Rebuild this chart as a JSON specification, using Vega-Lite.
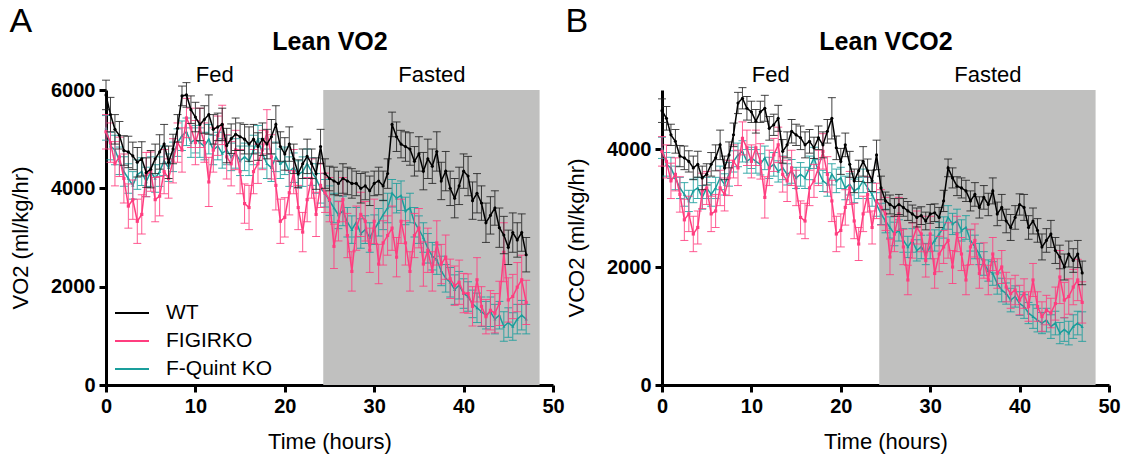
{
"$schema":"https://vega.github.io/schema/vega-lite/v6.json",
"padding":{"left":9,"top":5,"right":3,"bottom":5},
"datasets":{
"A":[
{"g":"WT","t":0,"v":5900,"e":300},{"g":"WT","t":0.5,"v":5500,"e":350},{"g":"WT","t":1,"v":5200,"e":300},{"g":"WT","t":1.5,"v":5080,"e":280},{"g":"WT","t":2,"v":4770,"e":300},{"g":"WT","t":2.5,"v":4740,"e":320},{"g":"WT","t":3,"v":4660,"e":280},{"g":"WT","t":3.5,"v":4530,"e":300},{"g":"WT","t":4,"v":4600,"e":350},{"g":"WT","t":4.5,"v":4320,"e":300},{"g":"WT","t":5,"v":4390,"e":380},{"g":"WT","t":5.5,"v":4600,"e":300},{"g":"WT","t":6,"v":4740,"e":350},{"g":"WT","t":6.5,"v":4900,"e":400},{"g":"WT","t":7,"v":4530,"e":330},{"g":"WT","t":7.5,"v":4800,"e":300},{"g":"WT","t":8,"v":5220,"e":280},{"g":"WT","t":8.5,"v":5880,"e":200},{"g":"WT","t":9,"v":5900,"e":250},{"g":"WT","t":9.5,"v":5600,"e":280},{"g":"WT","t":10,"v":5450,"e":300},{"g":"WT","t":10.5,"v":5300,"e":330},{"g":"WT","t":11,"v":5400,"e":280},{"g":"WT","t":11.5,"v":5500,"e":400},{"g":"WT","t":12,"v":5200,"e":300},{"g":"WT","t":12.5,"v":5250,"e":280},{"g":"WT","t":13,"v":5300,"e":330},{"g":"WT","t":13.5,"v":4870,"e":350},{"g":"WT","t":14,"v":5010,"e":300},{"g":"WT","t":14.5,"v":5100,"e":330},{"g":"WT","t":15,"v":5050,"e":280},{"g":"WT","t":15.5,"v":5000,"e":300},{"g":"WT","t":16,"v":4900,"e":350},{"g":"WT","t":16.5,"v":5000,"e":300},{"g":"WT","t":17,"v":4850,"e":280},{"g":"WT","t":17.5,"v":5000,"e":330},{"g":"WT","t":18,"v":4900,"e":300},{"g":"WT","t":18.5,"v":5050,"e":350},{"g":"WT","t":19,"v":5300,"e":380},{"g":"WT","t":19.5,"v":4850,"e":300},{"g":"WT","t":20,"v":4700,"e":330},{"g":"WT","t":20.5,"v":4900,"e":350},{"g":"WT","t":21,"v":4600,"e":300},{"g":"WT","t":21.5,"v":4300,"e":280},{"g":"WT","t":22,"v":4500,"e":300},{"g":"WT","t":22.5,"v":4650,"e":350},{"g":"WT","t":23,"v":4500,"e":300},{"g":"WT","t":23.5,"v":4300,"e":320},{"g":"WT","t":24,"v":4850,"e":350},{"g":"WT","t":24.5,"v":4300,"e":300},{"g":"WT","t":25,"v":4200,"e":250},{"g":"WT","t":25.5,"v":4150,"e":280},{"g":"WT","t":26,"v":4100,"e":250},{"g":"WT","t":26.5,"v":4200,"e":300},{"g":"WT","t":27,"v":4150,"e":280},{"g":"WT","t":27.5,"v":4100,"e":300},{"g":"WT","t":28,"v":4100,"e":250},{"g":"WT","t":28.5,"v":4000,"e":300},{"g":"WT","t":29,"v":4050,"e":280},{"g":"WT","t":29.5,"v":3950,"e":300},{"g":"WT","t":30,"v":4100,"e":250},{"g":"WT","t":30.5,"v":4150,"e":280},{"g":"WT","t":31,"v":4050,"e":300},{"g":"WT","t":31.5,"v":4300,"e":300},{"g":"WT","t":32,"v":5300,"e":250},{"g":"WT","t":32.5,"v":5050,"e":300},{"g":"WT","t":33,"v":4900,"e":280},{"g":"WT","t":33.5,"v":4850,"e":300},{"g":"WT","t":34,"v":4800,"e":330},{"g":"WT","t":34.5,"v":4550,"e":300},{"g":"WT","t":35,"v":4700,"e":350},{"g":"WT","t":35.5,"v":4350,"e":380},{"g":"WT","t":36,"v":4600,"e":400},{"g":"WT","t":36.5,"v":4450,"e":350},{"g":"WT","t":37,"v":4750,"e":400},{"g":"WT","t":37.5,"v":4150,"e":380},{"g":"WT","t":38,"v":4350,"e":400},{"g":"WT","t":38.5,"v":4000,"e":350},{"g":"WT","t":39,"v":3800,"e":400},{"g":"WT","t":39.5,"v":4050,"e":380},{"g":"WT","t":40,"v":4350,"e":350},{"g":"WT","t":40.5,"v":4250,"e":400},{"g":"WT","t":41,"v":3750,"e":380},{"g":"WT","t":41.5,"v":3900,"e":400},{"g":"WT","t":42,"v":3700,"e":350},{"g":"WT","t":42.5,"v":3300,"e":400},{"g":"WT","t":43,"v":3450,"e":380},{"g":"WT","t":43.5,"v":3600,"e":350},{"g":"WT","t":44,"v":3200,"e":400},{"g":"WT","t":44.5,"v":3050,"e":380},{"g":"WT","t":45,"v":2800,"e":350},{"g":"WT","t":45.5,"v":3100,"e":400},{"g":"WT","t":46,"v":2950,"e":350},{"g":"WT","t":46.5,"v":3100,"e":380},{"g":"WT","t":47,"v":2650,"e":350},
{"g":"FIGIRKO","t":0,"v":5150,"e":350},{"g":"FIGIRKO","t":0.5,"v":4930,"e":400},{"g":"FIGIRKO","t":1,"v":4500,"e":450},{"g":"FIGIRKO","t":1.5,"v":4640,"e":400},{"g":"FIGIRKO","t":2,"v":4200,"e":500},{"g":"FIGIRKO","t":2.5,"v":3640,"e":450},{"g":"FIGIRKO","t":3,"v":3770,"e":400},{"g":"FIGIRKO","t":3.5,"v":3330,"e":450},{"g":"FIGIRKO","t":4,"v":3470,"e":400},{"g":"FIGIRKO","t":4.5,"v":4280,"e":450},{"g":"FIGIRKO","t":5,"v":4340,"e":400},{"g":"FIGIRKO","t":5.5,"v":3770,"e":450},{"g":"FIGIRKO","t":6,"v":3840,"e":400},{"g":"FIGIRKO","t":6.5,"v":4340,"e":450},{"g":"FIGIRKO","t":7,"v":4200,"e":400},{"g":"FIGIRKO","t":7.5,"v":4560,"e":450},{"g":"FIGIRKO","t":8,"v":4930,"e":400},{"g":"FIGIRKO","t":8.5,"v":4780,"e":450},{"g":"FIGIRKO","t":9,"v":5430,"e":400},{"g":"FIGIRKO","t":9.5,"v":5230,"e":400},{"g":"FIGIRKO","t":10,"v":4930,"e":450},{"g":"FIGIRKO","t":10.5,"v":5230,"e":400},{"g":"FIGIRKO","t":11,"v":4930,"e":400},{"g":"FIGIRKO","t":11.5,"v":4130,"e":500},{"g":"FIGIRKO","t":12,"v":4780,"e":450},{"g":"FIGIRKO","t":12.5,"v":5070,"e":400},{"g":"FIGIRKO","t":13,"v":5290,"e":400},{"g":"FIGIRKO","t":13.5,"v":4640,"e":450},{"g":"FIGIRKO","t":14,"v":4500,"e":450},{"g":"FIGIRKO","t":14.5,"v":4780,"e":400},{"g":"FIGIRKO","t":15,"v":4340,"e":450},{"g":"FIGIRKO","t":15.5,"v":3690,"e":400},{"g":"FIGIRKO","t":16,"v":3610,"e":450},{"g":"FIGIRKO","t":16.5,"v":4340,"e":450},{"g":"FIGIRKO","t":17,"v":4500,"e":400},{"g":"FIGIRKO","t":17.5,"v":4780,"e":400},{"g":"FIGIRKO","t":18,"v":5150,"e":450},{"g":"FIGIRKO","t":18.5,"v":4640,"e":450},{"g":"FIGIRKO","t":19,"v":4060,"e":500},{"g":"FIGIRKO","t":19.5,"v":3330,"e":450},{"g":"FIGIRKO","t":20,"v":3410,"e":400},{"g":"FIGIRKO","t":20.5,"v":3910,"e":450},{"g":"FIGIRKO","t":21,"v":4340,"e":450},{"g":"FIGIRKO","t":21.5,"v":3610,"e":450},{"g":"FIGIRKO","t":22,"v":3110,"e":400},{"g":"FIGIRKO","t":22.5,"v":3770,"e":450},{"g":"FIGIRKO","t":23,"v":4200,"e":400},{"g":"FIGIRKO","t":23.5,"v":3470,"e":450},{"g":"FIGIRKO","t":24,"v":4060,"e":450},{"g":"FIGIRKO","t":24.5,"v":3910,"e":400},{"g":"FIGIRKO","t":25,"v":3770,"e":450},{"g":"FIGIRKO","t":25.5,"v":2820,"e":450},{"g":"FIGIRKO","t":26,"v":3330,"e":400},{"g":"FIGIRKO","t":26.5,"v":3770,"e":450},{"g":"FIGIRKO","t":27,"v":3040,"e":450},{"g":"FIGIRKO","t":27.5,"v":2310,"e":400},{"g":"FIGIRKO","t":28,"v":3190,"e":450},{"g":"FIGIRKO","t":28.5,"v":3470,"e":450},{"g":"FIGIRKO","t":29,"v":3330,"e":400},{"g":"FIGIRKO","t":29.5,"v":2740,"e":450},{"g":"FIGIRKO","t":30,"v":3330,"e":450},{"g":"FIGIRKO","t":30.5,"v":2460,"e":400},{"g":"FIGIRKO","t":31,"v":2890,"e":450},{"g":"FIGIRKO","t":31.5,"v":3040,"e":400},{"g":"FIGIRKO","t":32,"v":3190,"e":450},{"g":"FIGIRKO","t":32.5,"v":2600,"e":400},{"g":"FIGIRKO","t":33,"v":3330,"e":450},{"g":"FIGIRKO","t":33.5,"v":2890,"e":450},{"g":"FIGIRKO","t":34,"v":2310,"e":400},{"g":"FIGIRKO","t":34.5,"v":3040,"e":450},{"g":"FIGIRKO","t":35,"v":3190,"e":400},{"g":"FIGIRKO","t":35.5,"v":2460,"e":450},{"g":"FIGIRKO","t":36,"v":2740,"e":450},{"g":"FIGIRKO","t":36.5,"v":2310,"e":400},{"g":"FIGIRKO","t":37,"v":2890,"e":450},{"g":"FIGIRKO","t":37.5,"v":2460,"e":400},{"g":"FIGIRKO","t":38,"v":2600,"e":450},{"g":"FIGIRKO","t":38.5,"v":2160,"e":400},{"g":"FIGIRKO","t":39,"v":2020,"e":400},{"g":"FIGIRKO","t":39.5,"v":2090,"e":450},{"g":"FIGIRKO","t":40,"v":1870,"e":400},{"g":"FIGIRKO","t":40.5,"v":1860,"e":400},{"g":"FIGIRKO","t":41,"v":1600,"e":400},{"g":"FIGIRKO","t":41.5,"v":2140,"e":450},{"g":"FIGIRKO","t":42,"v":1600,"e":400},{"g":"FIGIRKO","t":42.5,"v":1390,"e":350},{"g":"FIGIRKO","t":43,"v":1520,"e":400},{"g":"FIGIRKO","t":43.5,"v":1460,"e":400},{"g":"FIGIRKO","t":44,"v":1660,"e":450},{"g":"FIGIRKO","t":44.5,"v":2700,"e":600},{"g":"FIGIRKO","t":45,"v":1730,"e":450},{"g":"FIGIRKO","t":45.5,"v":1800,"e":450},{"g":"FIGIRKO","t":46,"v":1990,"e":500},{"g":"FIGIRKO","t":46.5,"v":2140,"e":500},{"g":"FIGIRKO","t":47,"v":1680,"e":450},
{"g":"F-Quint KO","t":0,"v":5230,"e":250},{"g":"F-Quint KO","t":0.5,"v":4860,"e":280},{"g":"F-Quint KO","t":1,"v":4780,"e":300},{"g":"F-Quint KO","t":1.5,"v":4560,"e":280},{"g":"F-Quint KO","t":2,"v":4340,"e":300},{"g":"F-Quint KO","t":2.5,"v":4200,"e":300},{"g":"F-Quint KO","t":3,"v":4060,"e":280},{"g":"F-Quint KO","t":3.5,"v":4280,"e":300},{"g":"F-Quint KO","t":4,"v":4340,"e":280},{"g":"F-Quint KO","t":4.5,"v":4130,"e":300},{"g":"F-Quint KO","t":5,"v":4340,"e":300},{"g":"F-Quint KO","t":5.5,"v":4200,"e":280},{"g":"F-Quint KO","t":6,"v":4340,"e":300},{"g":"F-Quint KO","t":6.5,"v":4560,"e":300},{"g":"F-Quint KO","t":7,"v":4420,"e":280},{"g":"F-Quint KO","t":7.5,"v":4640,"e":300},{"g":"F-Quint KO","t":8,"v":4930,"e":280},{"g":"F-Quint KO","t":8.5,"v":5070,"e":300},{"g":"F-Quint KO","t":9,"v":5150,"e":280},{"g":"F-Quint KO","t":9.5,"v":4930,"e":300},{"g":"F-Quint KO","t":10,"v":5000,"e":280},{"g":"F-Quint KO","t":10.5,"v":4930,"e":300},{"g":"F-Quint KO","t":11,"v":4860,"e":280},{"g":"F-Quint KO","t":11.5,"v":5000,"e":300},{"g":"F-Quint KO","t":12,"v":4780,"e":300},{"g":"F-Quint KO","t":12.5,"v":4860,"e":280},{"g":"F-Quint KO","t":13,"v":4710,"e":300},{"g":"F-Quint KO","t":13.5,"v":4780,"e":300},{"g":"F-Quint KO","t":14,"v":4640,"e":280},{"g":"F-Quint KO","t":14.5,"v":4710,"e":300},{"g":"F-Quint KO","t":15,"v":4560,"e":300},{"g":"F-Quint KO","t":15.5,"v":4640,"e":280},{"g":"F-Quint KO","t":16,"v":4560,"e":300},{"g":"F-Quint KO","t":16.5,"v":4780,"e":300},{"g":"F-Quint KO","t":17,"v":5000,"e":280},{"g":"F-Quint KO","t":17.5,"v":4710,"e":300},{"g":"F-Quint KO","t":18,"v":4500,"e":300},{"g":"F-Quint KO","t":18.5,"v":4420,"e":280},{"g":"F-Quint KO","t":19,"v":4640,"e":300},{"g":"F-Quint KO","t":19.5,"v":4500,"e":300},{"g":"F-Quint KO","t":20,"v":4560,"e":280},{"g":"F-Quint KO","t":20.5,"v":4340,"e":300},{"g":"F-Quint KO","t":21,"v":4420,"e":300},{"g":"F-Quint KO","t":21.5,"v":4280,"e":280},{"g":"F-Quint KO","t":22,"v":4340,"e":300},{"g":"F-Quint KO","t":22.5,"v":4500,"e":300},{"g":"F-Quint KO","t":23,"v":4340,"e":280},{"g":"F-Quint KO","t":23.5,"v":4200,"e":300},{"g":"F-Quint KO","t":24,"v":4000,"e":300},{"g":"F-Quint KO","t":24.5,"v":3900,"e":280},{"g":"F-Quint KO","t":25,"v":3750,"e":300},{"g":"F-Quint KO","t":25.5,"v":3600,"e":300},{"g":"F-Quint KO","t":26,"v":3460,"e":280},{"g":"F-Quint KO","t":26.5,"v":3540,"e":300},{"g":"F-Quint KO","t":27,"v":3310,"e":300},{"g":"F-Quint KO","t":27.5,"v":3160,"e":280},{"g":"F-Quint KO","t":28,"v":3310,"e":300},{"g":"F-Quint KO","t":28.5,"v":3080,"e":300},{"g":"F-Quint KO","t":29,"v":3160,"e":280},{"g":"F-Quint KO","t":29.5,"v":3000,"e":300},{"g":"F-Quint KO","t":30,"v":3160,"e":300},{"g":"F-Quint KO","t":30.5,"v":3310,"e":280},{"g":"F-Quint KO","t":31,"v":3460,"e":300},{"g":"F-Quint KO","t":31.5,"v":3600,"e":300},{"g":"F-Quint KO","t":32,"v":3900,"e":280},{"g":"F-Quint KO","t":32.5,"v":3800,"e":300},{"g":"F-Quint KO","t":33,"v":3850,"e":300},{"g":"F-Quint KO","t":33.5,"v":3540,"e":280},{"g":"F-Quint KO","t":34,"v":3600,"e":300},{"g":"F-Quint KO","t":34.5,"v":3310,"e":300},{"g":"F-Quint KO","t":35,"v":3160,"e":280},{"g":"F-Quint KO","t":35.5,"v":3000,"e":300},{"g":"F-Quint KO","t":36,"v":2780,"e":300},{"g":"F-Quint KO","t":36.5,"v":2620,"e":280},{"g":"F-Quint KO","t":37,"v":2550,"e":300},{"g":"F-Quint KO","t":37.5,"v":2320,"e":300},{"g":"F-Quint KO","t":38,"v":2170,"e":280},{"g":"F-Quint KO","t":38.5,"v":2090,"e":300},{"g":"F-Quint KO","t":39,"v":1940,"e":300},{"g":"F-Quint KO","t":39.5,"v":2030,"e":280},{"g":"F-Quint KO","t":40,"v":1860,"e":300},{"g":"F-Quint KO","t":40.5,"v":1800,"e":300},{"g":"F-Quint KO","t":41,"v":1650,"e":280},{"g":"F-Quint KO","t":41.5,"v":1570,"e":300},{"g":"F-Quint KO","t":42,"v":1490,"e":300},{"g":"F-Quint KO","t":42.5,"v":1420,"e":280},{"g":"F-Quint KO","t":43,"v":1490,"e":300},{"g":"F-Quint KO","t":43.5,"v":1340,"e":300},{"g":"F-Quint KO","t":44,"v":1420,"e":280},{"g":"F-Quint KO","t":44.5,"v":1190,"e":300},{"g":"F-Quint KO","t":45,"v":1270,"e":300},{"g":"F-Quint KO","t":45.5,"v":1190,"e":280},{"g":"F-Quint KO","t":46,"v":1340,"e":300},{"g":"F-Quint KO","t":46.5,"v":1420,"e":300},{"g":"F-Quint KO","t":47,"v":1340,"e":300}
],
"B":[
{"g":"WT","t":0,"v":4650,"e":200},{"g":"WT","t":0.5,"v":4520,"e":200},{"g":"WT","t":1,"v":4240,"e":180},{"g":"WT","t":1.5,"v":4130,"e":200},{"g":"WT","t":2,"v":3880,"e":180},{"g":"WT","t":2.5,"v":3850,"e":200},{"g":"WT","t":3,"v":3790,"e":180},{"g":"WT","t":3.5,"v":3680,"e":200},{"g":"WT","t":4,"v":3740,"e":220},{"g":"WT","t":4.5,"v":3510,"e":200},{"g":"WT","t":5,"v":3570,"e":180},{"g":"WT","t":5.5,"v":3740,"e":200},{"g":"WT","t":6,"v":3850,"e":220},{"g":"WT","t":6.5,"v":4070,"e":250},{"g":"WT","t":7,"v":3680,"e":200},{"g":"WT","t":7.5,"v":3900,"e":220},{"g":"WT","t":8,"v":4240,"e":200},{"g":"WT","t":8.5,"v":4780,"e":180},{"g":"WT","t":9,"v":4860,"e":180},{"g":"WT","t":9.5,"v":4690,"e":200},{"g":"WT","t":10,"v":4630,"e":180},{"g":"WT","t":10.5,"v":4470,"e":200},{"g":"WT","t":11,"v":4630,"e":180},{"g":"WT","t":11.5,"v":4690,"e":220},{"g":"WT","t":12,"v":4350,"e":200},{"g":"WT","t":12.5,"v":4410,"e":180},{"g":"WT","t":13,"v":4520,"e":220},{"g":"WT","t":13.5,"v":3960,"e":200},{"g":"WT","t":14,"v":4070,"e":220},{"g":"WT","t":14.5,"v":4300,"e":200},{"g":"WT","t":15,"v":4240,"e":180},{"g":"WT","t":15.5,"v":4190,"e":200},{"g":"WT","t":16,"v":4070,"e":220},{"g":"WT","t":16.5,"v":4130,"e":200},{"g":"WT","t":17,"v":4020,"e":180},{"g":"WT","t":17.5,"v":4190,"e":200},{"g":"WT","t":18,"v":4070,"e":220},{"g":"WT","t":18.5,"v":4300,"e":200},{"g":"WT","t":19,"v":4520,"e":350},{"g":"WT","t":19.5,"v":4020,"e":200},{"g":"WT","t":20,"v":3790,"e":220},{"g":"WT","t":20.5,"v":4070,"e":200},{"g":"WT","t":21,"v":3740,"e":220},{"g":"WT","t":21.5,"v":3460,"e":200},{"g":"WT","t":22,"v":3630,"e":180},{"g":"WT","t":22.5,"v":3790,"e":250},{"g":"WT","t":23,"v":3630,"e":200},{"g":"WT","t":23.5,"v":3460,"e":180},{"g":"WT","t":24,"v":3900,"e":250},{"g":"WT","t":24.5,"v":3340,"e":200},{"g":"WT","t":25,"v":3120,"e":150},{"g":"WT","t":25.5,"v":3060,"e":160},{"g":"WT","t":26,"v":3010,"e":150},{"g":"WT","t":26.5,"v":3060,"e":170},{"g":"WT","t":27,"v":3010,"e":150},{"g":"WT","t":27.5,"v":2950,"e":160},{"g":"WT","t":28,"v":2900,"e":150},{"g":"WT","t":28.5,"v":2840,"e":160},{"g":"WT","t":29,"v":2870,"e":150},{"g":"WT","t":29.5,"v":2780,"e":150},{"g":"WT","t":30,"v":2900,"e":160},{"g":"WT","t":30.5,"v":2920,"e":150},{"g":"WT","t":31,"v":2840,"e":170},{"g":"WT","t":31.5,"v":3120,"e":180},{"g":"WT","t":32,"v":3680,"e":150},{"g":"WT","t":32.5,"v":3510,"e":170},{"g":"WT","t":33,"v":3370,"e":160},{"g":"WT","t":33.5,"v":3340,"e":170},{"g":"WT","t":34,"v":3290,"e":180},{"g":"WT","t":34.5,"v":3120,"e":170},{"g":"WT","t":35,"v":3230,"e":200},{"g":"WT","t":35.5,"v":3010,"e":180},{"g":"WT","t":36,"v":3180,"e":200},{"g":"WT","t":36.5,"v":3060,"e":190},{"g":"WT","t":37,"v":3290,"e":220},{"g":"WT","t":37.5,"v":2900,"e":200},{"g":"WT","t":38,"v":3010,"e":220},{"g":"WT","t":38.5,"v":2780,"e":200},{"g":"WT","t":39,"v":2670,"e":220},{"g":"WT","t":39.5,"v":2840,"e":200},{"g":"WT","t":40,"v":3060,"e":180},{"g":"WT","t":40.5,"v":3010,"e":220},{"g":"WT","t":41,"v":2670,"e":200},{"g":"WT","t":41.5,"v":2780,"e":220},{"g":"WT","t":42,"v":2620,"e":200},{"g":"WT","t":42.5,"v":2340,"e":220},{"g":"WT","t":43,"v":2450,"e":200},{"g":"WT","t":43.5,"v":2560,"e":230},{"g":"WT","t":44,"v":2280,"e":220},{"g":"WT","t":44.5,"v":2170,"e":200},{"g":"WT","t":45,"v":2000,"e":220},{"g":"WT","t":45.5,"v":2220,"e":220},{"g":"WT","t":46,"v":2110,"e":200},{"g":"WT","t":46.5,"v":2220,"e":230},{"g":"WT","t":47,"v":1900,"e":200},
{"g":"FIGIRKO","t":0,"v":3960,"e":250},{"g":"FIGIRKO","t":0.5,"v":3790,"e":280},{"g":"FIGIRKO","t":1,"v":3460,"e":300},{"g":"FIGIRKO","t":1.5,"v":3570,"e":280},{"g":"FIGIRKO","t":2,"v":3230,"e":300},{"g":"FIGIRKO","t":2.5,"v":2800,"e":350},{"g":"FIGIRKO","t":3,"v":2900,"e":300},{"g":"FIGIRKO","t":3.5,"v":2560,"e":300},{"g":"FIGIRKO","t":4,"v":2670,"e":280},{"g":"FIGIRKO","t":4.5,"v":3290,"e":300},{"g":"FIGIRKO","t":5,"v":3340,"e":280},{"g":"FIGIRKO","t":5.5,"v":2900,"e":300},{"g":"FIGIRKO","t":6,"v":2950,"e":280},{"g":"FIGIRKO","t":6.5,"v":3340,"e":300},{"g":"FIGIRKO","t":7,"v":3230,"e":280},{"g":"FIGIRKO","t":7.5,"v":3510,"e":300},{"g":"FIGIRKO","t":8,"v":3790,"e":280},{"g":"FIGIRKO","t":8.5,"v":3680,"e":300},{"g":"FIGIRKO","t":9,"v":4180,"e":280},{"g":"FIGIRKO","t":9.5,"v":4020,"e":300},{"g":"FIGIRKO","t":10,"v":3790,"e":280},{"g":"FIGIRKO","t":10.5,"v":4020,"e":300},{"g":"FIGIRKO","t":11,"v":3790,"e":300},{"g":"FIGIRKO","t":11.5,"v":3180,"e":350},{"g":"FIGIRKO","t":12,"v":3680,"e":300},{"g":"FIGIRKO","t":12.5,"v":3900,"e":280},{"g":"FIGIRKO","t":13,"v":4070,"e":300},{"g":"FIGIRKO","t":13.5,"v":3570,"e":300},{"g":"FIGIRKO","t":14,"v":3460,"e":350},{"g":"FIGIRKO","t":14.5,"v":3680,"e":300},{"g":"FIGIRKO","t":15,"v":3340,"e":300},{"g":"FIGIRKO","t":15.5,"v":2840,"e":280},{"g":"FIGIRKO","t":16,"v":2780,"e":300},{"g":"FIGIRKO","t":16.5,"v":3340,"e":300},{"g":"FIGIRKO","t":17,"v":3460,"e":280},{"g":"FIGIRKO","t":17.5,"v":3680,"e":300},{"g":"FIGIRKO","t":18,"v":3960,"e":300},{"g":"FIGIRKO","t":18.5,"v":3570,"e":300},{"g":"FIGIRKO","t":19,"v":3120,"e":350},{"g":"FIGIRKO","t":19.5,"v":2560,"e":300},{"g":"FIGIRKO","t":20,"v":2620,"e":280},{"g":"FIGIRKO","t":20.5,"v":3010,"e":300},{"g":"FIGIRKO","t":21,"v":3340,"e":280},{"g":"FIGIRKO","t":21.5,"v":2780,"e":300},{"g":"FIGIRKO","t":22,"v":2390,"e":280},{"g":"FIGIRKO","t":22.5,"v":2900,"e":300},{"g":"FIGIRKO","t":23,"v":3230,"e":300},{"g":"FIGIRKO","t":23.5,"v":2670,"e":280},{"g":"FIGIRKO","t":24,"v":3120,"e":300},{"g":"FIGIRKO","t":24.5,"v":3010,"e":300},{"g":"FIGIRKO","t":25,"v":2900,"e":280},{"g":"FIGIRKO","t":25.5,"v":2170,"e":300},{"g":"FIGIRKO","t":26,"v":2560,"e":300},{"g":"FIGIRKO","t":26.5,"v":2900,"e":280},{"g":"FIGIRKO","t":27,"v":2340,"e":300},{"g":"FIGIRKO","t":27.5,"v":1780,"e":250},{"g":"FIGIRKO","t":28,"v":2450,"e":300},{"g":"FIGIRKO","t":28.5,"v":2670,"e":280},{"g":"FIGIRKO","t":29,"v":2560,"e":300},{"g":"FIGIRKO","t":29.5,"v":2110,"e":280},{"g":"FIGIRKO","t":30,"v":2560,"e":300},{"g":"FIGIRKO","t":30.5,"v":1890,"e":250},{"g":"FIGIRKO","t":31,"v":2220,"e":300},{"g":"FIGIRKO","t":31.5,"v":2340,"e":280},{"g":"FIGIRKO","t":32,"v":2450,"e":300},{"g":"FIGIRKO","t":32.5,"v":2000,"e":280},{"g":"FIGIRKO","t":33,"v":2560,"e":300},{"g":"FIGIRKO","t":33.5,"v":2220,"e":280},{"g":"FIGIRKO","t":34,"v":1780,"e":250},{"g":"FIGIRKO","t":34.5,"v":2340,"e":300},{"g":"FIGIRKO","t":35,"v":2450,"e":280},{"g":"FIGIRKO","t":35.5,"v":1890,"e":250},{"g":"FIGIRKO","t":36,"v":2110,"e":300},{"g":"FIGIRKO","t":36.5,"v":1780,"e":250},{"g":"FIGIRKO","t":37,"v":2220,"e":280},{"g":"FIGIRKO","t":37.5,"v":1890,"e":250},{"g":"FIGIRKO","t":38,"v":2000,"e":280},{"g":"FIGIRKO","t":38.5,"v":1660,"e":250},{"g":"FIGIRKO","t":39,"v":1550,"e":250},{"g":"FIGIRKO","t":39.5,"v":1610,"e":250},{"g":"FIGIRKO","t":40,"v":1440,"e":250},{"g":"FIGIRKO","t":40.5,"v":1550,"e":250},{"g":"FIGIRKO","t":41,"v":1330,"e":250},{"g":"FIGIRKO","t":41.5,"v":1780,"e":280},{"g":"FIGIRKO","t":42,"v":1330,"e":250},{"g":"FIGIRKO","t":42.5,"v":1160,"e":250},{"g":"FIGIRKO","t":43,"v":1270,"e":250},{"g":"FIGIRKO","t":43.5,"v":1220,"e":250},{"g":"FIGIRKO","t":44,"v":1380,"e":280},{"g":"FIGIRKO","t":44.5,"v":1830,"e":450},{"g":"FIGIRKO","t":45,"v":1440,"e":300},{"g":"FIGIRKO","t":45.5,"v":1500,"e":300},{"g":"FIGIRKO","t":46,"v":1660,"e":300},{"g":"FIGIRKO","t":46.5,"v":1780,"e":350},{"g":"FIGIRKO","t":47,"v":1400,"e":350},
{"g":"F-Quint KO","t":0,"v":4020,"e":180},{"g":"F-Quint KO","t":0.5,"v":3740,"e":200},{"g":"F-Quint KO","t":1,"v":3680,"e":180},{"g":"F-Quint KO","t":1.5,"v":3510,"e":200},{"g":"F-Quint KO","t":2,"v":3340,"e":180},{"g":"F-Quint KO","t":2.5,"v":3230,"e":200},{"g":"F-Quint KO","t":3,"v":3120,"e":180},{"g":"F-Quint KO","t":3.5,"v":3290,"e":200},{"g":"F-Quint KO","t":4,"v":3340,"e":180},{"g":"F-Quint KO","t":4.5,"v":3180,"e":200},{"g":"F-Quint KO","t":5,"v":3340,"e":180},{"g":"F-Quint KO","t":5.5,"v":3230,"e":200},{"g":"F-Quint KO","t":6,"v":3340,"e":180},{"g":"F-Quint KO","t":6.5,"v":3510,"e":200},{"g":"F-Quint KO","t":7,"v":3400,"e":180},{"g":"F-Quint KO","t":7.5,"v":3570,"e":200},{"g":"F-Quint KO","t":8,"v":3790,"e":180},{"g":"F-Quint KO","t":8.5,"v":3900,"e":200},{"g":"F-Quint KO","t":9,"v":3960,"e":180},{"g":"F-Quint KO","t":9.5,"v":3790,"e":200},{"g":"F-Quint KO","t":10,"v":3850,"e":180},{"g":"F-Quint KO","t":10.5,"v":3790,"e":200},{"g":"F-Quint KO","t":11,"v":3740,"e":180},{"g":"F-Quint KO","t":11.5,"v":3850,"e":200},{"g":"F-Quint KO","t":12,"v":3680,"e":180},{"g":"F-Quint KO","t":12.5,"v":3740,"e":200},{"g":"F-Quint KO","t":13,"v":3620,"e":180},{"g":"F-Quint KO","t":13.5,"v":3680,"e":200},{"g":"F-Quint KO","t":14,"v":3570,"e":180},{"g":"F-Quint KO","t":14.5,"v":3620,"e":200},{"g":"F-Quint KO","t":15,"v":3510,"e":180},{"g":"F-Quint KO","t":15.5,"v":3570,"e":200},{"g":"F-Quint KO","t":16,"v":3510,"e":180},{"g":"F-Quint KO","t":16.5,"v":3680,"e":200},{"g":"F-Quint KO","t":17,"v":3850,"e":180},{"g":"F-Quint KO","t":17.5,"v":3620,"e":200},{"g":"F-Quint KO","t":18,"v":3460,"e":180},{"g":"F-Quint KO","t":18.5,"v":3400,"e":200},{"g":"F-Quint KO","t":19,"v":3570,"e":180},{"g":"F-Quint KO","t":19.5,"v":3460,"e":200},{"g":"F-Quint KO","t":20,"v":3510,"e":180},{"g":"F-Quint KO","t":20.5,"v":3340,"e":200},{"g":"F-Quint KO","t":21,"v":3400,"e":180},{"g":"F-Quint KO","t":21.5,"v":3290,"e":200},{"g":"F-Quint KO","t":22,"v":3340,"e":180},{"g":"F-Quint KO","t":22.5,"v":3460,"e":200},{"g":"F-Quint KO","t":23,"v":3340,"e":180},{"g":"F-Quint KO","t":23.5,"v":3230,"e":200},{"g":"F-Quint KO","t":24,"v":3060,"e":200},{"g":"F-Quint KO","t":24.5,"v":2900,"e":180},{"g":"F-Quint KO","t":25,"v":2780,"e":200},{"g":"F-Quint KO","t":25.5,"v":2670,"e":180},{"g":"F-Quint KO","t":26,"v":2560,"e":200},{"g":"F-Quint KO","t":26.5,"v":2620,"e":180},{"g":"F-Quint KO","t":27,"v":2450,"e":200},{"g":"F-Quint KO","t":27.5,"v":2340,"e":180},{"g":"F-Quint KO","t":28,"v":2450,"e":200},{"g":"F-Quint KO","t":28.5,"v":2280,"e":180},{"g":"F-Quint KO","t":29,"v":2340,"e":200},{"g":"F-Quint KO","t":29.5,"v":2220,"e":180},{"g":"F-Quint KO","t":30,"v":2340,"e":200},{"g":"F-Quint KO","t":30.5,"v":2450,"e":180},{"g":"F-Quint KO","t":31,"v":2560,"e":200},{"g":"F-Quint KO","t":31.5,"v":2670,"e":180},{"g":"F-Quint KO","t":32,"v":2840,"e":200},{"g":"F-Quint KO","t":32.5,"v":2730,"e":180},{"g":"F-Quint KO","t":33,"v":2780,"e":200},{"g":"F-Quint KO","t":33.5,"v":2620,"e":180},{"g":"F-Quint KO","t":34,"v":2670,"e":200},{"g":"F-Quint KO","t":34.5,"v":2450,"e":180},{"g":"F-Quint KO","t":35,"v":2340,"e":200},{"g":"F-Quint KO","t":35.5,"v":2220,"e":180},{"g":"F-Quint KO","t":36,"v":2060,"e":200},{"g":"F-Quint KO","t":36.5,"v":1940,"e":180},{"g":"F-Quint KO","t":37,"v":1890,"e":200},{"g":"F-Quint KO","t":37.5,"v":1720,"e":180},{"g":"F-Quint KO","t":38,"v":1610,"e":200},{"g":"F-Quint KO","t":38.5,"v":1550,"e":180},{"g":"F-Quint KO","t":39,"v":1440,"e":200},{"g":"F-Quint KO","t":39.5,"v":1500,"e":180},{"g":"F-Quint KO","t":40,"v":1380,"e":200},{"g":"F-Quint KO","t":40.5,"v":1330,"e":200},{"g":"F-Quint KO","t":41,"v":1220,"e":180},{"g":"F-Quint KO","t":41.5,"v":1160,"e":200},{"g":"F-Quint KO","t":42,"v":1100,"e":200},{"g":"F-Quint KO","t":42.5,"v":1050,"e":180},{"g":"F-Quint KO","t":43,"v":1100,"e":200},{"g":"F-Quint KO","t":43.5,"v":990,"e":200},{"g":"F-Quint KO","t":44,"v":1050,"e":200},{"g":"F-Quint KO","t":44.5,"v":880,"e":180},{"g":"F-Quint KO","t":45,"v":940,"e":200},{"g":"F-Quint KO","t":45.5,"v":880,"e":200},{"g":"F-Quint KO","t":46,"v":990,"e":200},{"g":"F-Quint KO","t":46.5,"v":1050,"e":200},{"g":"F-Quint KO","t":47,"v":990,"e":250}
],
"phase":[{"s":24.3,"e":48.5}]
},
"hconcat":[
{
"width":447,"height":295,
"title":{"text":"A"},
"layer":[
{"data":{"name":"phase"},"mark":{"type":"rect","color":"#c0c0bf"},
"encoding":{"x":{"field":"s","type":"quantitative","scale":{"domain":[0,50],"nice":false},"axis":{"orient":"top","values":[12.1,36.4],"labelExpr":"datum.value < 25 ? 'Fed' : 'Fasted'","ticks":false,"domain":false,"labelFontSize":22,"labelFontWeight":"normal","labelPadding":4,"title":"Lean VO2","titleFontSize":25,"titleFontWeight":"bold","titlePadding":9}},"x2":{"field":"e"}}},
{"data":{"name":"A"},"transform":[{"filter":"datum.g === 'F-Quint KO'"}],"mark":{"type":"errorbar","color":"#1a9e9c","ticks":{"size":8},"thickness":1,"opacity":0.85},
"encoding":{"x":{"field":"t","type":"quantitative","axis":{"orient":"bottom","values":[0,10,20,30,40,50],"title":"Time (hours)"}},"y":{"field":"v","type":"quantitative","title":"VO2 (ml/kg/hr)","scale":{"domain":[0,6000],"nice":false},"axis":{"values":[0,2000,4000,6000],"format":"d"}},"yError":{"field":"e"}}},
{"data":{"name":"A"},"transform":[{"filter":"datum.g === 'F-Quint KO'"}],"mark":{"type":"line","strokeWidth":1.5,"point":{"shape":"triangle-up","size":10,"filled":true}},
"encoding":{"x":{"field":"t","type":"quantitative","axis":null},"y":{"field":"v","type":"quantitative","title":"VO2 (ml/kg/hr)"},"color":{"field":"g","type":"nominal","scale":{"domain":["WT","FIGIRKO","F-Quint KO"],"range":["#000000","#ff3d7f","#1a9e9c"]},"legend":{"orient":"none","legendX":8,"legendY":205}}}},
{"data":{"name":"A"},"transform":[{"filter":"datum.g === 'FIGIRKO'"}],"mark":{"type":"errorbar","color":"#ff3d7f","ticks":{"size":8},"thickness":1,"opacity":0.85},
"encoding":{"x":{"field":"t","type":"quantitative","axis":null},"y":{"field":"v","type":"quantitative","title":"VO2 (ml/kg/hr)"},"yError":{"field":"e"}}},
{"data":{"name":"A"},"transform":[{"filter":"datum.g === 'FIGIRKO'"}],"mark":{"type":"line","strokeWidth":1.5,"point":{"shape":"square","size":10,"filled":true}},
"encoding":{"x":{"field":"t","type":"quantitative","axis":null},"y":{"field":"v","type":"quantitative","title":"VO2 (ml/kg/hr)"},"color":{"field":"g","type":"nominal"}}},
{"data":{"name":"A"},"transform":[{"filter":"datum.g === 'WT'"}],"mark":{"type":"errorbar","color":"#222222","ticks":{"size":8},"thickness":1,"opacity":0.85},
"encoding":{"x":{"field":"t","type":"quantitative","axis":null},"y":{"field":"v","type":"quantitative","title":"VO2 (ml/kg/hr)"},"yError":{"field":"e"}}},
{"data":{"name":"A"},"transform":[{"filter":"datum.g === 'WT'"}],"mark":{"type":"line","strokeWidth":1.5,"point":{"shape":"circle","size":10,"filled":true}},
"encoding":{"x":{"field":"t","type":"quantitative","axis":null},"y":{"field":"v","type":"quantitative","title":"VO2 (ml/kg/hr)"},"color":{"field":"g","type":"nominal"}}}
],
"resolve":{"axis":{"x":"independent"}}
},
{
"width":447,"height":295,
"title":{"text":"B"},
"layer":[
{"data":{"name":"phase"},"mark":{"type":"rect","color":"#c0c0bf"},
"encoding":{"x":{"field":"s","type":"quantitative","scale":{"domain":[0,50],"nice":false},"axis":{"orient":"top","values":[12.1,36.4],"labelExpr":"datum.value < 25 ? 'Fed' : 'Fasted'","ticks":false,"domain":false,"labelFontSize":22,"labelFontWeight":"normal","labelPadding":4,"title":"Lean VCO2","titleFontSize":25,"titleFontWeight":"bold","titlePadding":9}},"x2":{"field":"e"}}},
{"data":{"name":"B"},"transform":[{"filter":"datum.g === 'F-Quint KO'"}],"mark":{"type":"errorbar","color":"#1a9e9c","ticks":{"size":8},"thickness":1,"opacity":0.85},
"encoding":{"x":{"field":"t","type":"quantitative","axis":{"orient":"bottom","values":[0,10,20,30,40,50],"title":"Time (hours)"}},"y":{"field":"v","type":"quantitative","title":"VCO2 (ml/kg/hr)","scale":{"domain":[0,5000],"nice":false},"axis":{"values":[0,2000,4000],"format":"d"}},"yError":{"field":"e"}}},
{"data":{"name":"B"},"transform":[{"filter":"datum.g === 'F-Quint KO'"}],"mark":{"type":"line","strokeWidth":1.5,"point":{"shape":"triangle-up","size":10,"filled":true}},
"encoding":{"x":{"field":"t","type":"quantitative","axis":null},"y":{"field":"v","type":"quantitative","title":"VCO2 (ml/kg/hr)"},"color":{"field":"g","type":"nominal","scale":{"domain":["WT","FIGIRKO","F-Quint KO"],"range":["#000000","#ff3d7f","#1a9e9c"]},"legend":null}}},
{"data":{"name":"B"},"transform":[{"filter":"datum.g === 'FIGIRKO'"}],"mark":{"type":"errorbar","color":"#ff3d7f","ticks":{"size":8},"thickness":1,"opacity":0.85},
"encoding":{"x":{"field":"t","type":"quantitative","axis":null},"y":{"field":"v","type":"quantitative","title":"VCO2 (ml/kg/hr)"},"yError":{"field":"e"}}},
{"data":{"name":"B"},"transform":[{"filter":"datum.g === 'FIGIRKO'"}],"mark":{"type":"line","strokeWidth":1.5,"point":{"shape":"square","size":10,"filled":true}},
"encoding":{"x":{"field":"t","type":"quantitative","axis":null},"y":{"field":"v","type":"quantitative","title":"VCO2 (ml/kg/hr)"},"color":{"field":"g","type":"nominal","legend":null}}},
{"data":{"name":"B"},"transform":[{"filter":"datum.g === 'WT'"}],"mark":{"type":"errorbar","color":"#222222","ticks":{"size":8},"thickness":1,"opacity":0.85},
"encoding":{"x":{"field":"t","type":"quantitative","axis":null},"y":{"field":"v","type":"quantitative","title":"VCO2 (ml/kg/hr)"},"yError":{"field":"e"}}},
{"data":{"name":"B"},"transform":[{"filter":"datum.g === 'WT'"}],"mark":{"type":"line","strokeWidth":1.5,"point":{"shape":"circle","size":10,"filled":true}},
"encoding":{"x":{"field":"t","type":"quantitative","axis":null},"y":{"field":"v","type":"quantitative","title":"VCO2 (ml/kg/hr)"},"color":{"field":"g","type":"nominal","legend":null}}}
],
"resolve":{"axis":{"x":"independent"}}
}
],
"resolve":{"scale":{"color":"independent"},"legend":{"color":"independent"}},
"config":{
"view":{"stroke":null},
"font":"Liberation Sans",
"concat":{"spacing":0},
"axis":{"grid":false,"domainColor":"#000000","domainWidth":3,"tickColor":"#000000","tickWidth":3,"tickSize":7,"labelFontSize":20,"labelFontWeight":"bold","labelColor":"#000000","labelFlush":false,"titleFontSize":22,"titleFontWeight":"normal","titleColor":"#000000","labelPadding":4},
"axisY":{"titlePadding":18},
"axisX":{"titlePadding":15},
"title":{"fontSize":34,"fontWeight":"normal","anchor":"start","frame":"bounds","color":"#000000","offset":-10},
"legend":{"symbolType":"stroke","symbolSize":1156,"symbolStrokeWidth":2,"labelFontSize":21,"labelColor":"#000000","labelOffset":16,"rowPadding":-7,"padding":0,"title":null}
}
}
